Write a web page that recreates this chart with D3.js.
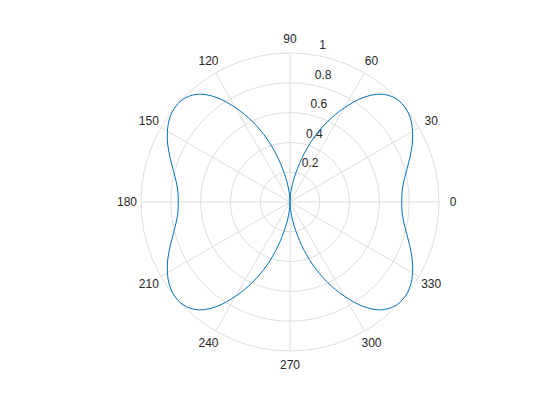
<!doctype html>
<html lang="en">
  <head>
    <meta charset="utf-8">
    <title>Polar plot</title>
    <script src="https://cdn.jsdelivr.net/npm/d3@7"></script>
    <style>
      body { margin: 0; background: #fff; }
      svg text { font-family: "Liberation Sans", Arial, sans-serif; font-size: 12px; fill: #262626; }
    </style>
  </head>
  <body>
    <div id="chart"></div>
  </body>
  <script>
    // angles (degrees) and radii
    const thetaDeg = [0,5,10,15,20,25,30,35,40,45,50,55,60,65,70,75,80,85,
      90,95,100,105,110,115,120,125,130,135,140,145,150,155,160,165,170,175,
      180,185,190,195,200,205,210,215,220,225,230,235,240,245,250,255,260,265,
      270,275,280,285,290,295,300,305,310,315,320,325,330,335,340,345,350,355];
    const rho = [0.75,0.755,0.775,0.81,0.855,0.905,0.95,0.985,1.0,0.99,0.945,0.855,0.73,0.595,0.45,0.30,0.165,0.07,
      0,0.07,0.165,0.30,0.45,0.595,0.73,0.855,0.945,0.99,1.0,0.985,0.95,0.905,0.855,0.81,0.775,0.755,
      0.75,0.755,0.775,0.81,0.855,0.905,0.95,0.985,1.0,0.99,0.945,0.855,0.73,0.595,0.45,0.30,0.165,0.07,
      0,0.07,0.165,0.30,0.45,0.595,0.73,0.855,0.945,0.99,1.0,0.985,0.95,0.905,0.855,0.81,0.775,0.755];
    const angleTicks = [0,30,60,90,120,150,180,210,240,270,300,330];
    const radiusTicks = [0.2,0.4,0.6,0.8,1];

    const w = 560, h = 420;
    const cx = 290, cy = 202, R = 149;
    const gridColor = '#dedede';

    const svg = d3.select('#chart')
      .append('svg')
      .attr('width', w)
      .attr('height', h)
      .append('g')
      .attr('transform', 'translate(' + cx + ',' + cy + ')');

    const r = d3.scaleLinear().domain([0, 1]).range([0, R]);
    // matlab angle (ccw from east) -> d3 radial angle (cw from north)
    const toD3 = deg => Math.PI / 2 - deg * Math.PI / 180;

    // rings
    svg.selectAll('.ring')
      .data(radiusTicks)
      .enter().append('circle')
      .attr('class', 'ring')
      .attr('r', d => r(d))
      .attr('fill', 'none')
      .attr('stroke', gridColor)
      .attr('stroke-width', 1);

    // spokes
    svg.selectAll('.spoke')
      .data(angleTicks)
      .enter().append('line')
      .attr('class', 'spoke')
      .attr('x1', 0).attr('y1', 0)
      .attr('x2', d => r(1) * Math.cos(d * Math.PI / 180))
      .attr('y2', d => -r(1) * Math.sin(d * Math.PI / 180))
      .attr('stroke', gridColor)
      .attr('stroke-width', 1);

    // angle labels
    svg.selectAll('.alabel')
      .data(angleTicks)
      .enter().append('text')
      .attr('class', 'alabel')
      .attr('x', d => (R + 14) * Math.cos(d * Math.PI / 180))
      .attr('y', d => -(R + 14) * Math.sin(d * Math.PI / 180))
      .attr('text-anchor', 'middle')
      .attr('dominant-baseline', 'central')
      .text(d => d);

    // radius labels, along the r-axis near 80 deg
    const ra = 81.6 * Math.PI / 180;
    svg.selectAll('.rlabel')
      .data(radiusTicks)
      .enter().append('text')
      .attr('class', 'rlabel')
      .attr('x', d => 7.4 + r(d) * Math.cos(ra))
      .attr('y', d => -9.4 - r(d) * Math.sin(ra))
      .attr('text-anchor', 'start')
      .attr('dominant-baseline', 'central')
      .text(d => d);

    // the curve
    const pts = thetaDeg.map((t, i) => [toD3(t), r(rho[i])]);
    const line = d3.lineRadial()
      .angle(d => d[0])
      .radius(d => d[1])
      .curve(d3.curveCatmullRomClosed);

    svg.append('path')
      .datum(pts)
      .attr('d', line)
      .attr('fill', 'none')
      .attr('stroke', '#0072BD')
      .attr('stroke-width', 1);
  </script>
</html>
